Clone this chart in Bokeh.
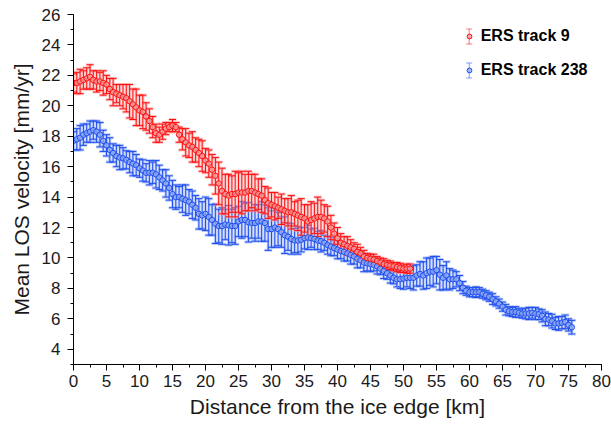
import numpy as np
from bokeh.plotting import figure
from bokeh.models import (ColumnDataSource, Whisker, TeeHead, LinearAxis, Range1d,
                          SingleIntervalTicker, Legend, LegendItem, BoxAnnotation)
from bokeh.embed import file_html
from bokeh.resources import INLINE

# ---------------- data ----------------
red_x = [i * 0.5 for i in range(103)]          # km, 0 ... 51
red_y = [
    21.5, 21.5, 21.6, 21.7, 21.8, 21.9, 21.7, 21.6, 21.6, 21.5,
    21.4, 21.1, 20.9, 20.8, 20.7, 20.6, 20.5, 20.3, 20.1, 19.9,
    19.7, 19.6, 19.3, 19.0, 18.6, 18.2, 18.1, 18.3, 18.5, 18.6,
    18.7, 18.6, 18.1, 17.8, 17.6, 17.4, 17.3, 17.1, 16.9, 16.7,
    16.4, 16.2, 15.8, 15.4, 14.9, 14.4, 14.2, 14.1, 14.2, 14.2,
    14.3, 14.3, 14.3, 14.4, 14.4, 14.3, 14.2, 14.1, 13.8, 13.6,
    13.5, 13.4, 13.3, 13.2, 13.1, 13.0, 13.0, 12.9, 12.8, 12.7,
    12.6, 12.4, 12.5, 12.6, 12.7, 12.7, 12.6, 12.4, 12.0, 11.6,
    11.3, 11.0, 10.9, 10.8, 10.7, 10.6, 10.4, 10.3, 10.1, 10.0,
    9.95, 9.9, 9.8, 9.7, 9.6, 9.55, 9.5, 9.45, 9.4, 9.35,
    9.3, 9.3, 9.3,
]
red_err = [
    0.6, 0.7, 0.8, 0.6, 0.7, 0.8, 0.6, 0.7, 0.6, 0.8,
    0.6, 0.7, 0.9, 0.6, 0.7, 0.8,
    0.9, 1.1, 1.0, 1.2, 1.0, 1.1, 0.9,
    0.8, 0.7, 0.6, 0.5, 0.5,
    0.4, 0.3, 0.4, 0.3, 0.5,
    0.7, 0.9, 0.8, 1.0, 0.8, 0.9, 1.0, 0.8, 0.9, 1.0, 1.2,
    1.4, 1.5, 1.3, 1.4, 1.2, 1.5, 1.3, 1.4, 1.2, 1.3, 1.1, 1.2, 1.0, 1.1, 0.9, 1.0,
    0.8, 0.9, 0.7, 1.0, 0.8, 0.9, 1.1, 0.8, 1.0, 1.2, 0.9, 1.1, 1.2, 1.0, 1.3, 1.1, 0.9, 1.0, 0.8, 0.7,
    0.7, 0.6, 0.5, 0.6, 0.5, 0.4, 0.5, 0.4, 0.4, 0.3,
    0.3, 0.35, 0.3, 0.3, 0.35, 0.3, 0.3, 0.25, 0.3, 0.3, 0.25, 0.3, 0.3,
]

blue_x = [i * 0.5 for i in range(152)]         # km, 0 ... 75.5
blue_y = [
    17.7, 17.8, 17.9, 18.1, 18.2, 18.3, 18.4, 18.3, 18.1, 17.7,
    17.4, 17.1, 16.9, 16.7, 16.6, 16.55, 16.45, 16.3, 16.2, 16.1,
    15.9, 15.75, 15.6, 15.6, 15.6, 15.5, 15.3, 15.1, 14.9, 14.6,
    14.2, 14.0, 14.0, 13.9, 13.8, 13.7, 13.5, 13.3, 12.9, 12.8,
    12.9, 12.7, 12.5, 12.25, 12.1, 12.1, 12.2, 12.15, 12.1, 12.1,
    12.4, 12.5, 12.5, 12.35, 12.3, 12.3, 12.4, 12.4, 12.3, 11.9,
    11.9, 12.0, 11.9, 11.7, 11.5, 11.4, 11.25, 11.15, 11.15, 11.2,
    11.3, 11.35, 11.3, 11.25, 11.15, 11.1, 11.0, 10.85, 10.75, 10.65,
    10.55, 10.45, 10.4, 10.3, 10.2, 10.1, 9.95, 9.85, 9.7, 9.65,
    9.6, 9.55, 9.45, 9.3, 9.15, 9.0, 8.85, 8.7, 8.6, 8.6,
    8.65, 8.7, 8.7, 8.7, 8.85, 8.95, 8.85, 9.0, 9.1, 9.1,
    9.2, 8.9, 8.7, 8.85, 8.6, 8.6, 8.6, 8.35, 8.05, 7.85,
    7.75, 7.75, 7.75, 7.75, 7.65, 7.55, 7.45, 7.3, 7.15, 7.0,
    6.8, 6.6, 6.5, 6.45, 6.45, 6.4, 6.35, 6.35, 6.35, 6.4,
    6.35, 6.3, 6.2, 6.0, 5.95, 5.85, 5.7, 5.7, 5.75, 5.8,
    5.6, 5.45,
]
blue_err = [
    0.6, 0.7, 0.8, 0.7, 0.6, 0.7, 0.6, 0.7, 0.8, 0.7,
    0.7, 0.8, 0.6, 0.7, 0.8, 0.7, 0.6, 0.7, 0.8, 0.7,
    0.6, 0.7, 0.6, 0.8, 0.7, 0.9, 0.8, 0.7, 0.9, 0.8,
    0.9, 0.8, 0.7, 0.9, 1.0, 0.8, 0.9, 0.8, 1.0, 0.9,
    1.1, 1.2, 1.0, 1.3, 1.1, 1.2, 1.0, 1.3, 1.1, 1.2,
    1.0, 1.2, 1.1, 1.3, 1.0, 1.2, 1.1, 1.3, 1.2, 1.4,
    1.2, 1.3, 1.1, 1.0, 1.2, 0.9, 1.0, 0.8, 0.9, 0.8,
    0.7, 0.8, 0.6, 0.7, 0.6, 0.7, 0.5, 0.6, 0.6, 0.5,
    0.6, 0.5, 0.6, 0.5, 0.6, 0.5, 0.6, 0.5, 0.6, 0.5,
    0.5, 0.4, 0.5, 0.4, 0.5, 0.4, 0.5, 0.4, 0.5, 0.6,
    0.7, 0.6, 0.7, 0.8, 0.7, 0.8, 0.9, 1.0, 0.9, 1.0,
    0.9, 1.0, 0.8, 0.9, 0.7, 0.6, 0.5, 0.5, 0.4, 0.3,
    0.3, 0.3, 0.35, 0.3, 0.3, 0.3, 0.3, 0.35, 0.3, 0.3,
    0.3, 0.35, 0.3, 0.3, 0.35, 0.3, 0.3, 0.35, 0.4, 0.35,
    0.4, 0.35, 0.4, 0.45, 0.4, 0.45, 0.4, 0.45, 0.4, 0.45,
    0.4, 0.45,
]

series_labels = ["ERS track 9", "ERS track 238"]
x_title = "Distance from the ice edge [km]"
y_title = "Mean LOS velocity [mm/yr]"

RED, RED_L = "#FF1010", "#F59A9A"
BLUE, BLUE_L = "#1F4FEF", "#8FA9F2"
FONT = "Liberation Sans"

# ---------------- figure ----------------
p = figure(width=611, height=428, x_range=Range1d(0, 80), y_range=Range1d(3, 26),
           output_backend="svg", toolbar_location=None,
           x_axis_type=None, y_axis_type=None)
p.min_border_left = 73
p.min_border_right = 10
p.min_border_top = 14
p.min_border_bottom = 64
p.outline_line_color = None
p.background_fill_color = "white"
p.border_fill_color = "white"


def style_axis(ax):
    ax.axis_line_color = "black"
    ax.axis_line_width = 1
    ax.major_tick_line_color = "black"
    ax.minor_tick_line_color = "black"
    ax.major_tick_out = 6
    ax.major_tick_in = 0
    ax.minor_tick_out = 3
    ax.minor_tick_in = 0
    ax.major_label_text_font = FONT
    ax.major_label_text_font_size = "17px"
    ax.major_label_text_color = "#1a1a1a"
    ax.axis_label_text_font = FONT
    ax.axis_label_text_font_size = "21px"
    ax.axis_label_text_font_style = "normal"
    ax.axis_label_text_color = "#1a1a1a"


xaxis = LinearAxis(ticker=SingleIntervalTicker(interval=5, num_minor_ticks=2), axis_label=x_title)
style_axis(xaxis)
xaxis.major_label_standoff = 4
xaxis.axis_label_standoff = 5
p.add_layout(xaxis, "below")

yaxis = LinearAxis(ticker=SingleIntervalTicker(interval=2, num_minor_ticks=2), axis_label=y_title)
style_axis(yaxis)
yaxis.major_label_standoff = 7
yaxis.axis_label_standoff = 6
p.add_layout(yaxis, "left")


def add_series(xs, ys, errs, color, light):
    y = np.array(ys)
    e = np.array(errs)
    src = ColumnDataSource(dict(x=xs, y=ys, lo=(y - e).tolist(), hi=(y + e).tolist()))
    glow = Whisker(base="x", lower="lo", upper="hi", source=src, dimension="height",
                   line_color=light, line_width=3, line_alpha=0.55,
                   upper_head=TeeHead(size=8, line_color=light, line_width=3, line_alpha=0.55),
                   lower_head=TeeHead(size=8, line_color=light, line_width=3, line_alpha=0.55))
    wk = Whisker(base="x", lower="lo", upper="hi", source=src, dimension="height",
                 line_color=color, line_width=1,
                 upper_head=TeeHead(size=7, line_color=color, line_width=1),
                 lower_head=TeeHead(size=7, line_color=color, line_width=1))
    p.add_layout(glow)
    p.add_layout(wk)
    r = p.scatter("x", "y", source=src, marker="circle", size=5.5,
                  line_color=color, line_width=1, fill_color=light, fill_alpha=0.8)
    return r


r_blue = add_series(blue_x, blue_y, blue_err, BLUE, BLUE_L)
r_red = add_series(red_x, red_y, red_err, RED, RED_L)

legend = Legend(items=[LegendItem(label=series_labels[0], renderers=[r_red]),
                       LegendItem(label=series_labels[1], renderers=[r_blue])],
                location=(389.7, 284), orientation="vertical")
legend.border_line_color = None
legend.background_fill_alpha = 0
legend.padding = 0
legend.margin = 0
legend.spacing = 14
legend.glyph_width = 12
legend.glyph_height = 20
legend.label_height = 20
legend.label_standoff = 6
legend.label_text_font = FONT
legend.label_text_font_style = "bold"
legend.label_text_font_size = "16px"
legend.label_text_color = "black"
legend.label_text_baseline = "middle"
p.add_layout(legend)

# error-bar symbols of the legend keys (screen units relative to the frame)
for cy, col in ((328, RED), (294, BLUE)):
    for kw in (dict(left=395.7, right=395.7, bottom=cy - 7.5, top=cy + 7.5),
               dict(left=392.7, right=398.7, bottom=cy - 7.5, top=cy - 7.5),
               dict(left=392.7, right=398.7, bottom=cy + 7.5, top=cy + 7.5)):
        p.add_layout(BoxAnnotation(left_units="screen", right_units="screen",
                                   top_units="screen", bottom_units="screen",
                                   fill_alpha=0, line_color=col, line_width=1, **kw))

open("out.html", "w").write(file_html(p, INLINE))
